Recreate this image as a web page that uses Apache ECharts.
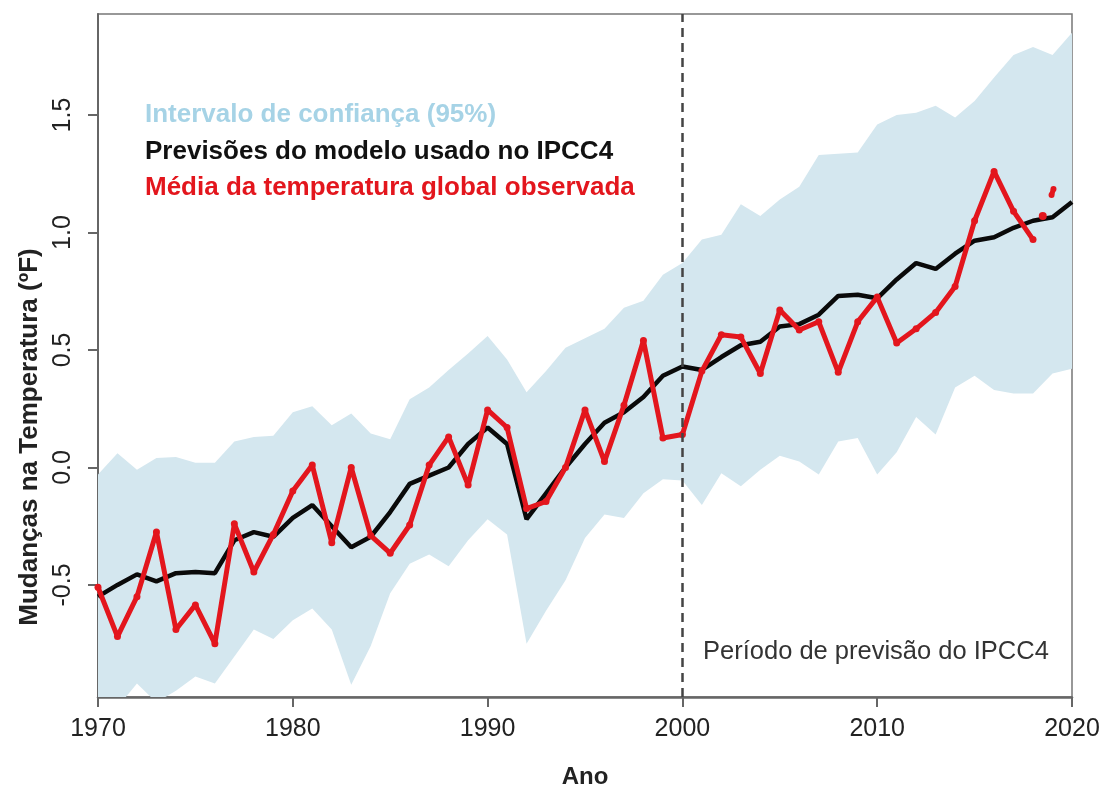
<!DOCTYPE html>
<html>
<head>
<meta charset="utf-8">
<script src="https://cdn.jsdelivr.net/npm/echarts@6/dist/echarts.min.js"></script>
<style>
  html, body { margin: 0; padding: 0; background: #fff; }
  #chart-ipcc { width: 1105px; height: 787px; }
</style>
</head>
<body>
<div id="chart-ipcc"></div>
<script>
// years 1970..2020
const years = [];
for (let y = 1970; y <= 2020; y++) years.push(y);

// IPCC4 model projection (black)
const modelValues = [
  -0.55, -0.50, -0.455, -0.485, -0.45, -0.445, -0.45, -0.31, -0.275, -0.295,
  -0.215, -0.16, -0.25, -0.34, -0.295, -0.19, -0.07, -0.035, 0.0, 0.10,
  0.17, 0.10, -0.22, -0.11, 0.0, 0.10, 0.19, 0.235, 0.30, 0.39,
  0.43, 0.415, 0.47, 0.52, 0.535, 0.60, 0.61, 0.65, 0.73, 0.735,
  0.72, 0.80, 0.87, 0.845, 0.91, 0.965, 0.98, 1.02, 1.05, 1.065,
  1.13
];

// 95% confidence interval
const bandUpper = [
  -0.03, 0.06, -0.01, 0.04, 0.045, 0.02, 0.02, 0.11, 0.13, 0.135,
  0.235, 0.26, 0.18, 0.23, 0.145, 0.12, 0.29, 0.34, 0.415, 0.485,
  0.56, 0.46, 0.32, 0.41, 0.51, 0.55, 0.59, 0.68, 0.71, 0.82,
  0.87, 0.97, 0.99, 1.12, 1.07, 1.14, 1.195, 1.33, 1.335, 1.34,
  1.46, 1.50, 1.51, 1.54, 1.49, 1.56, 1.66, 1.755, 1.79, 1.755,
  1.85
];
const bandLower = [
  -1.05, -1.02, -0.92, -1.0, -0.95, -0.89, -0.92, -0.805, -0.69, -0.73,
  -0.65, -0.60, -0.69, -0.925, -0.76, -0.535, -0.41, -0.37, -0.42, -0.31,
  -0.22, -0.285, -0.75, -0.61, -0.48, -0.30, -0.20, -0.215, -0.11, -0.05,
  -0.055, -0.16, -0.025, -0.08, -0.01, 0.05, 0.025, -0.03, 0.11, 0.125,
  -0.03, 0.065, 0.215, 0.14, 0.34, 0.39, 0.33, 0.315, 0.315, 0.40,
  0.42
];

// observed global mean temperature (red), 1970..2018
const observedValues = [
  -0.51, -0.72, -0.55, -0.275, -0.69, -0.585, -0.75, -0.24, -0.445, -0.285,
  -0.10, 0.01, -0.32, 0.0, -0.29, -0.365, -0.245, 0.01, 0.13, -0.075,
  0.245, 0.17, -0.175, -0.145, 0.0, 0.245, 0.025, 0.265, 0.54, 0.125,
  0.14, 0.41, 0.565, 0.555, 0.40, 0.67, 0.585, 0.62, 0.405, 0.62,
  0.725, 0.53, 0.59, 0.66, 0.77, 1.05, 1.26, 1.09, 0.97
];
// partial-year observations drawn apart at the end
const recentDot = [[2018.5, 1.07]];
const recentSegment = [[2018.95, 1.16], [2019.05, 1.185]];

const yTicks = [-0.5, 0, 0.5, 1.0, 1.5];
const legendLines = [
  { text: 'Intervalo de confiança (95%)', color: '#a6d3e6' },
  { text: 'Previsões do modelo usado no IPCC4', color: '#111111' },
  { text: 'Média da temperatura global observada', color: '#e3161d' }
];

const FONT = '"Liberation Sans", Arial, sans-serif';
const BAND = '#d4e7ef';
const RED = '#e3161d';

const pair = (arr) => arr.map((v, i) => [years[i], v]);

const chart = echarts.init(document.getElementById('chart-ipcc'));

var option = {
  animation: false,
  backgroundColor: '#fff',
  grid: {
    left: 98, right: 33, top: 14, bottom: 90,
    outerBoundsMode: 'none', containLabel: false,
    show: true, borderColor: '#777', borderWidth: 1.5
  },
  xAxis: {
    type: 'value', min: 1970, max: 2020, interval: 10,
    name: 'Ano', nameLocation: 'middle', nameGap: 68,
    nameTextStyle: { fontFamily: FONT, fontWeight: 'bold', fontSize: 24, color: '#222' },
    axisLine: { onZero: false, lineStyle: { color: '#666', width: 2.5 } },
    axisTick: { length: 10, lineStyle: { color: '#666', width: 2 } },
    axisLabel: { fontFamily: FONT, fontSize: 25, color: '#222', margin: 20, formatter: (v) => String(v) },
    splitLine: { show: false }
  },
  yAxis: {
    type: 'value', min: -0.977, max: 1.93,
    axisLine: { show: true, lineStyle: { color: '#666', width: 2 } },
    axisTick: { show: true, length: 10, customValues: yTicks, lineStyle: { color: '#666', width: 2 } },
    axisLabel: {
      customValues: yTicks, rotate: 90, margin: 22,
      fontFamily: FONT, fontSize: 25, color: '#222',
      formatter: (v) => v.toFixed(1)
    },
    splitLine: { show: false }
  },
  graphic: [
    {
      type: 'text', x: 30, y: 437, rotation: Math.PI / 2,
      style: {
        text: 'Mudanças na Temperatura (ºF)', fontFamily: FONT, fontWeight: 'bold',
        fontSize: 26, fill: '#222', align: 'center', verticalAlign: 'middle'
      }
    },
    {
      type: 'text', x: 703, y: 652,
      style: {
        text: 'Período de previsão do IPCC4', fontFamily: FONT, fontSize: 25.5,
        fill: '#333', verticalAlign: 'middle'
      }
    }
  ].concat(legendLines.map((l, i) => ({
    type: 'text', x: 145, y: 115 + i * 36.5,
    style: {
      text: l.text, fontFamily: FONT, fontWeight: 'bold', fontSize: 26,
      fill: l.color, verticalAlign: 'middle'
    }
  }))),
  series: [
    {
      // confidence band: one polygon upper edge forward, lower edge back
      name: 'Intervalo de confiança (95%)', type: 'custom', clip: true, silent: true,
      data: years.map((y, i) => [y, bandLower[i], bandUpper[i]]),
      encode: { x: 0, y: [1, 2] },
      renderItem: function (params, api) {
        if (params.dataIndex !== 0) return null;
        const pts = [];
        for (let i = 0; i < years.length; i++) pts.push(api.coord([years[i], bandUpper[i]]));
        for (let i = years.length - 1; i >= 0; i--) pts.push(api.coord([years[i], bandLower[i]]));
        return { type: 'polygon', shape: { points: pts }, style: { fill: BAND } };
      },
      z: 1
    },
    {
      name: 'Previsões do modelo usado no IPCC4', type: 'line',
      data: pair(modelValues), symbol: 'none', z: 3,
      lineStyle: { color: '#0a0a0a', width: 4.5 },
      markLine: {
        silent: true, symbol: 'none', label: { show: false },
        lineStyle: { color: '#444', width: 2.5, type: [9, 6] },
        data: [{ xAxis: 2000 }]
      }
    },
    {
      name: 'Média da temperatura global observada', type: 'line', z: 4,
      data: pair(observedValues), symbol: 'circle', symbolSize: 7, showAllSymbol: true,
      itemStyle: { color: RED }, lineStyle: { color: RED, width: 5 }
    },
    {
      name: 'recentDot', type: 'line', data: recentDot, z: 4,
      symbol: 'circle', symbolSize: 8, itemStyle: { color: RED }
    },
    {
      name: 'recentSegment', type: 'line', data: recentSegment, z: 4,
      symbol: 'circle', symbolSize: 6, itemStyle: { color: RED }, lineStyle: { color: RED, width: 5 }
    }
  ]
};

option && chart.setOption(option);
</script>
</body>
</html>
